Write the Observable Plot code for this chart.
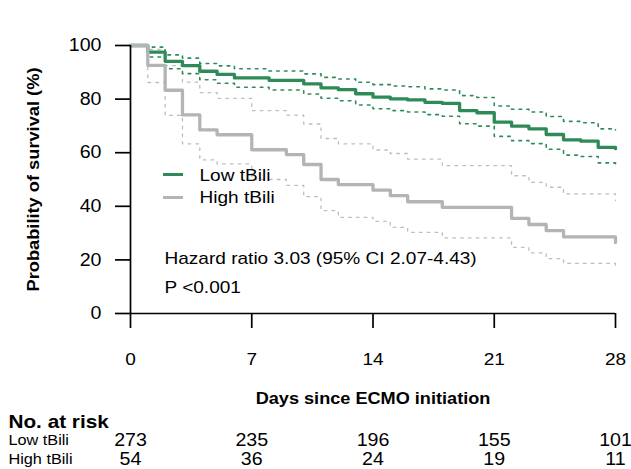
<!DOCTYPE html>
<html><head><meta charset="utf-8">
<script src="https://cdn.jsdelivr.net/npm/d3@7"></script>
<script src="https://cdn.jsdelivr.net/npm/@observablehq/plot@0.6"></script>
<style>body{margin:0;background:#fff} #chart svg{display:block}</style>
</head><body><div id="chart"></div>
<script>
// ---- data ----
const lowDays  = [0,1,2,3,4,5,6,8,10,11,12,13,14,15,16,17,18,19,20,21,22,23,24,25,26,27,28];
const lowSurv  = [100,97.5,94.1,92.5,90.4,89.2,87.9,87.0,85.7,84.2,83.5,82.0,80.7,80.1,79.7,78.8,78.4,75.7,74.9,71.4,69.9,68.9,66.8,64.8,64.3,62.0,61.5];
const lowUpper = [100,99.4,96.5,95.3,93.3,92.4,91.3,90.5,89.4,88.1,87.5,86.3,85.4,84.9,84.6,83.8,83.4,81.3,80.6,77.4,76.2,75.2,73.5,71.7,71.2,68.9,68.5];
const lowLower = [100,95.7,91.3,89.5,87.2,85.9,84.4,83.4,81.9,80.3,79.4,77.8,76.4,75.7,75.2,74.2,73.6,70.8,69.9,66.1,64.5,63.4,61.3,59.1,58.6,56.2,55.6];

const highDays  = [0,1,2,3,4,5,7,9,10,11,12,14,15,16,18,22,23,24,25,28];
const highSurv  = [100,92.6,83.3,74.1,68.5,66.7,61.1,59.3,55.6,50.0,48.1,46.0,44.0,41.7,39.6,35.5,33.2,30.9,28.6,26.5];
const highUpper = [100,98.5,92.5,86.3,82.4,80.3,75.7,74.0,70.7,65.3,63.3,61.0,59.7,57.6,55.2,51.4,48.9,47.1,44.6,42.1];
const highLower = [100,86.2,73.9,63.3,57.3,55.8,50.0,47.8,43.6,38.4,35.9,34.4,32.1,30.3,28.2,24.7,22.6,20.5,18.7,17.0];

const groups = ["Low tBili", "High tBili"];
const xTicks = [0,7,14,21,28];
const yTicks = [0,20,40,60,80,100];
const riskDays = [0,7,14,21,28];
const lowRisk  = [273,235,196,155,101];
const highRisk = [54,36,24,19,11];
const xLabel = "Days since ECMO initiation";
const yLabel = "Probability of survival (%)";
const hrText = "Hazard ratio 3.03 (95% CI 2.07-4.43)";
const pText = "P <0.001";
const riskTitle = "No. at risk";

// ---- style ----
const GREEN = "#2e8b57", GREY = "#b4b4b4", GREYCI = "#bdbdbd";
const FONT = "'Liberation Sans', Arial, Helvetica, sans-serif";
const DOT = "2.6,5.2";

const toRows = (days, vals) => days.map((d, i) => ({day: d, v: vals[i]}));

function legendMark(index, scales, values, dims) {
  const g = d3.create("svg:g");
  const cols = [GREEN, GREY];
  groups.forEach((name, i) => {
    const y = dims.marginTop + 129.5 + i * 23;
    g.append("line")
      .attr("x1", dims.marginLeft + 33).attr("x2", dims.marginLeft + 53)
      .attr("y1", y).attr("y2", y)
      .attr("stroke", cols[i]).attr("stroke-width", 3);
  });
  return g.node();
}

const chart = Plot.plot({
  width: 631, height: 469,
  marginLeft: 130, marginRight: 16, marginTop: 45, marginBottom: 156,
  style: {fontFamily: FONT, background: "#fff", color: "#000"},
  x: {domain: [0, 28]},
  y: {domain: [0, 100]},
  marks: [
    Plot.line(toRows(highDays, highUpper), {x: "day", y: "v", curve: "step-after", stroke: GREYCI, strokeWidth: 1.3, strokeDasharray: DOT}),
    Plot.line(toRows(highDays, highLower), {x: "day", y: "v", curve: "step-after", stroke: GREYCI, strokeWidth: 1.3, strokeDasharray: DOT}),
    Plot.line(toRows(lowDays, lowUpper), {x: "day", y: "v", curve: "step-after", stroke: GREEN, strokeWidth: 1.6, strokeDasharray: DOT}),
    Plot.line(toRows(lowDays, lowLower), {x: "day", y: "v", curve: "step-after", stroke: GREEN, strokeWidth: 1.6, strokeDasharray: DOT}),
    Plot.line(toRows(lowDays, lowSurv), {x: "day", y: "v", curve: "step-after", stroke: GREEN, strokeWidth: 3.3}),
    Plot.line(toRows(highDays, highSurv), {x: "day", y: "v", curve: "step-after", stroke: GREY, strokeWidth: 3.3}),
    Plot.ruleX([0], {y1: 0, y2: 100, strokeWidth: 1.7}),
    Plot.ruleY([0], {x1: 0, x2: 28, strokeWidth: 1.7}),
    Plot.axisX({ticks: xTicks, tickSize: 15, tickPadding: 24, fontSize: 17, strokeWidth: 1.7, label: null, tickFormat: d => d}),
    Plot.axisY({ticks: yTicks, tickSize: 15, tickPadding: 14, fontSize: 17.5, strokeWidth: 1.7, label: null, tickFormat: d => d}),
    Plot.text([yLabel], {frameAnchor: "left", rotate: -90, dx: -97, textAnchor: "middle", lineAnchor: "middle", fontSize: 16.3, fontWeight: "bold", text: d => d}),
    Plot.text([xLabel], {frameAnchor: "bottom", dy: 85, fontSize: 16.2, fontWeight: "bold", lineAnchor: "middle", text: d => d}),
    // legend
    legendMark,
    Plot.text([groups[0]], {frameAnchor: "top-left", dx: 69, dy: 130, lineAnchor: "middle", text: d => d, fontSize: 17, textAnchor: "start"}),
    Plot.text([groups[1]], {frameAnchor: "top-left", dx: 69, dy: 152, lineAnchor: "middle", text: d => d, fontSize: 17, textAnchor: "start"}),
    // annotation
    Plot.text([hrText], {frameAnchor: "top-left", dx: 34, dy: 213, lineAnchor: "middle", fontSize: 17, textAnchor: "start", text: d => d}),
    Plot.text([pText], {frameAnchor: "top-left", dx: 34, dy: 242, lineAnchor: "middle", fontSize: 17, textAnchor: "start", text: d => d}),
    // risk table
    Plot.text([riskTitle], {frameAnchor: "bottom-left", dx: -122, dy: 109, lineAnchor: "middle", fontSize: 18.5, fontWeight: "bold", textAnchor: "start", text: d => d}),
    Plot.text([groups[0]], {frameAnchor: "bottom-left", dx: -122, dy: 127, lineAnchor: "middle", fontSize: 14.5, textAnchor: "start", text: d => d}),
    Plot.text([groups[1]], {frameAnchor: "bottom-left", dx: -122, dy: 146, lineAnchor: "middle", fontSize: 14.5, textAnchor: "start", text: d => d}),
    Plot.text(riskDays, {x: d => d, frameAnchor: "bottom", dy: 127, lineAnchor: "middle", fontSize: 18.5, text: (d, i) => lowRisk[i]}),
    Plot.text(riskDays, {x: d => d, frameAnchor: "bottom", dy: 146, lineAnchor: "middle", fontSize: 18.5, text: (d, i) => highRisk[i]})
  ]
});
document.getElementById("chart").appendChild(chart);

// the reference's lettering is a little wider than Arial at the same height
// (the at-risk counts are the exception: tall and narrow)
const svgTop = chart.getBoundingClientRect().top;
chart.querySelectorAll("text").forEach(t => {
  const L = t.getComputedTextLength();
  if (L <= 0) return;
  const box = t.getBoundingClientRect();
  const isCount = /^\d+$/.test(t.textContent.trim()) && (box.top - svgTop) > 420;
  const k = isCount ? 1.06 : 1.12;
  t.setAttribute("textLength", (L * k).toFixed(2));
  t.setAttribute("lengthAdjust", "spacingAndGlyphs");
});
</script>
</body></html>
